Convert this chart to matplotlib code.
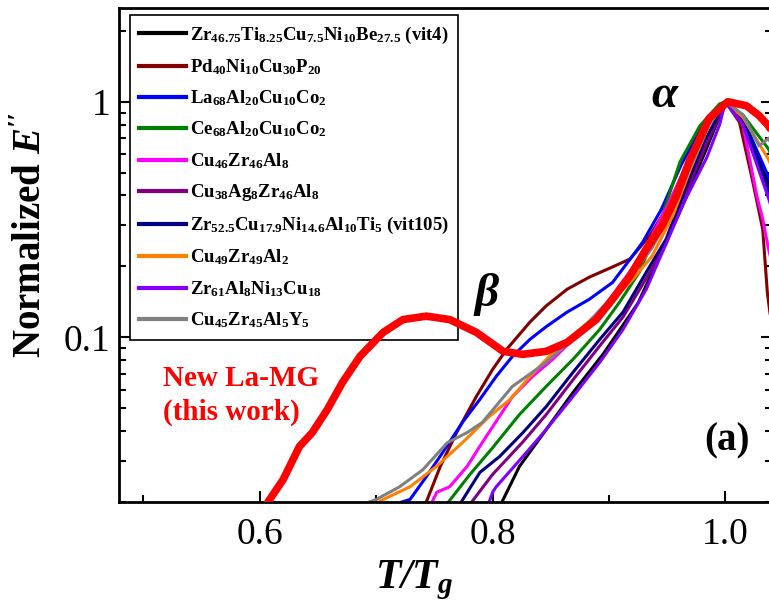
import numpy as np
import matplotlib
matplotlib.use("Agg")
import matplotlib.pyplot as plt
from matplotlib.ticker import LogLocator, NullFormatter, FixedLocator

plt.rcParams['font.family'] = ['Liberation Serif', 'DejaVu Serif']
plt.rcParams['mathtext.fontset'] = 'custom'
plt.rcParams['mathtext.rm'] = 'Liberation Serif'
plt.rcParams['mathtext.it'] = 'Liberation Serif:italic'
plt.rcParams['mathtext.bf'] = 'Liberation Serif:bold'
plt.rcParams['mathtext.bfit'] = 'Liberation Serif:bold:italic'

x_vit4 = [0.808, 0.823, 0.846, 0.869, 0.895, 0.925, 0.945, 0.965, 0.983, 1.0, 1.015, 1.037, 1.06]
y_vit4 = [0.020, 0.0283, 0.0406, 0.0583, 0.085, 0.14, 0.23, 0.38, 0.62, 1.0, 0.85, 0.45, 0.2]

x_pd = [0.743, 0.755, 0.769, 0.786, 0.800, 0.812, 0.832, 0.846, 0.864, 0.883, 0.903, 0.918,
        0.935, 0.952, 0.968, 0.985, 1.0, 1.012, 1.023, 1.032, 1.036, 1.045]
y_pd = [0.020, 0.0283, 0.0394, 0.0561, 0.0731, 0.0889, 0.116, 0.136, 0.160, 0.180, 0.199, 0.215,
        0.27, 0.37, 0.55, 0.8, 1.0, 0.82, 0.47, 0.288, 0.155, 0.07]

x_la = [0.722, 0.729, 0.743, 0.757, 0.774, 0.789, 0.803, 0.817, 0.832, 0.846, 0.864, 0.883,
        0.903, 0.920, 0.929, 0.945, 0.962, 0.980, 1.0, 1.015, 1.037, 1.055]
y_la = [0.020, 0.0205, 0.0256, 0.0324, 0.0435, 0.0545, 0.0682, 0.083, 0.098, 0.111, 0.128, 0.145,
        0.171, 0.221, 0.254, 0.35, 0.54, 0.79, 1.0, 0.85, 0.48, 0.3]

x_ce = [0.762, 0.780, 0.800, 0.823, 0.846, 0.869, 0.892, 0.909, 0.926, 0.943, 0.950, 0.961,
        0.978, 0.995, 1.0, 1.015, 1.037, 1.055]
y_ce = [0.020, 0.026, 0.034, 0.047, 0.0619, 0.0806, 0.108, 0.141, 0.189, 0.30, 0.38, 0.556,
        0.79, 0.98, 1.0, 0.88, 0.63, 0.38]

x_cuzral8 = [0.748, 0.752, 0.763, 0.778, 0.791, 0.817, 0.834, 0.852, 0.875, 0.898, 0.918, 0.935,
             0.950, 0.965, 0.982, 1.0, 1.015, 1.027, 1.032, 1.037, 1.05]
y_cuzral8 = [0.020, 0.022, 0.0232, 0.0283, 0.0357, 0.056, 0.068, 0.081, 0.105, 0.14, 0.19, 0.26,
             0.36, 0.52, 0.76, 1.0, 0.8, 0.398, 0.318, 0.237, 0.13]

x_cuag = [0.782, 0.800, 0.826, 0.846, 0.869, 0.892, 0.912, 0.932, 0.949, 0.965, 0.983, 1.0,
          1.015, 1.037, 1.055]
y_cuag = [0.020, 0.0262, 0.036, 0.047, 0.066, 0.092, 0.122, 0.178, 0.25, 0.40, 0.65, 1.0,
          0.83, 0.41, 0.22]

x_vit105 = [0.773, 0.789, 0.806, 0.826, 0.846, 0.869, 0.892, 0.912, 0.932, 0.949, 0.965, 0.982,
            1.0, 1.015, 1.037, 1.055]
y_vit105 = [0.020, 0.0267, 0.0312, 0.0394, 0.0508, 0.0710, 0.098, 0.128, 0.189, 0.261, 0.42, 0.68,
            1.0, 0.85, 0.43, 0.25]

x_cuzral2 = [0.702, 0.706, 0.729, 0.752, 0.774, 0.797, 0.815, 0.832, 0.852, 0.875, 0.898, 0.918,
             0.937, 0.955, 0.970, 0.986, 1.0, 1.015, 1.037, 1.055]
y_cuzral2 = [0.020, 0.0205, 0.0232, 0.0284, 0.0357, 0.0461, 0.0545, 0.0682, 0.0863, 0.108, 0.136, 0.171,
             0.221, 0.33, 0.52, 0.8, 1.0, 0.86, 0.57, 0.35]

x_zral = [0.797, 0.800, 0.803, 0.826, 0.846, 0.869, 0.892, 0.912, 0.932, 0.952, 0.965, 0.984,
          0.995, 1.0, 1.015, 1.037, 1.055]
y_zral = [0.020, 0.022, 0.0232, 0.0312, 0.0406, 0.0561, 0.0783, 0.108, 0.160, 0.27, 0.38, 0.58,
          0.80, 1.0, 0.8, 0.39, 0.2]

x_cuzraly = [0.694, 0.700, 0.720, 0.740, 0.761, 0.778, 0.791, 0.817, 0.846, 0.870, 0.895, 0.918,
             0.937, 0.955, 0.970, 0.986, 1.0, 1.015, 1.029, 1.037, 1.055]
y_cuzraly = [0.020, 0.0205, 0.0232, 0.0274, 0.0357, 0.0394, 0.0435, 0.0619, 0.0783, 0.10, 0.135, 0.18,
             0.24, 0.35, 0.53, 0.8, 1.0, 0.88, 0.65, 0.70, 0.45]

x_new = [0.607, 0.620, 0.634, 0.645, 0.658, 0.671, 0.686, 0.706, 0.723, 0.743, 0.763, 0.786,
         0.809, 0.826, 0.846, 0.864, 0.875, 0.889, 0.903, 0.918, 0.932, 0.946, 0.958, 0.969,
         0.986, 1.002, 1.018, 1.029, 1.037, 1.05, 1.08]
y_new = [0.020, 0.0249, 0.0344, 0.0394, 0.0494, 0.0644, 0.0830, 0.105, 0.119, 0.123, 0.119, 0.105,
         0.0872, 0.0847, 0.0872, 0.0952, 0.105, 0.119, 0.145, 0.182, 0.237, 0.30, 0.40, 0.56,
         0.85, 1.0, 0.962, 0.872, 0.79, 0.62, 0.35]

labels = [
    r"$\mathbf{Zr_{46.75}Ti_{8.25}Cu_{7.5}Ni_{10}Be_{27.5}}$ (vit4)",
    r"$\mathbf{Pd_{40}Ni_{10}Cu_{30}P_{20}}$",
    r"$\mathbf{La_{68}Al_{20}Cu_{10}Co_{2}}$",
    r"$\mathbf{Ce_{68}Al_{20}Cu_{10}Co_{2}}$",
    r"$\mathbf{Cu_{46}Zr_{46}Al_{8}}$",
    r"$\mathbf{Cu_{38}Ag_{8}Zr_{46}Al_{8}}$",
    r"$\mathbf{Zr_{52.5}Cu_{17.9}Ni_{14.6}Al_{10}Ti_{5}}$ (vit105)",
    r"$\mathbf{Cu_{49}Zr_{49}Al_{2}}$",
    r"$\mathbf{Zr_{61}Al_{8}Ni_{13}Cu_{18}}$",
    r"$\mathbf{Cu_{45}Zr_{45}Al_{5}Y_{5}}$",
]
colors = ['black', '#800000', '#0000ff', '#008000', '#ff00ff',
          '#800080', '#000080', '#ff8000', '#8000ff', '#808080']
xs = [x_vit4, x_pd, x_la, x_ce, x_cuzral8, x_cuag, x_vit105, x_cuzral2, x_zral, x_cuzraly]
ys = [y_vit4, y_pd, y_la, y_ce, y_cuzral8, y_cuag, y_vit105, y_cuzral2, y_zral, y_cuzraly]

fig = plt.figure(figsize=(7.69, 6.06), dpi=100)
ax = fig.add_axes([119 / 769, 1 - 502 / 606, 653 / 769, 494 / 606])

for x, y, c, lab in zip(xs, ys, colors, labels):
    ax.plot(x, y, color=c, lw=2.2, label=lab, solid_joinstyle='round')
# rote Kurve liegt ueber der Legende
ax.plot(x_new, y_new, color='#ff0000', lw=5.5, solid_capstyle='round',
        solid_joinstyle='round', zorder=6)

ax.set_yscale('log')
ax.set_xlim(0.479, 1.04)
ax.set_ylim(0.02, 2.5)

ax.xaxis.set_major_locator(FixedLocator([0.6, 0.8, 1.0]))
ax.xaxis.set_minor_locator(FixedLocator([0.5, 0.7, 0.9]))
ax.set_xticklabels(['0.6', '0.8', '1.0'])
ax.yaxis.set_major_locator(FixedLocator([0.1, 1]))
ax.set_yticklabels(['0.1', '1'])
ax.yaxis.set_minor_locator(LogLocator(base=10, subs=np.arange(2, 10)))
ax.yaxis.set_minor_formatter(NullFormatter())

ax.tick_params(which='both', direction='in', top=False, right=True, width=1.5, labelsize=27)
ax.tick_params(which='major', length=8)
ax.tick_params(which='minor', length=5)
ax.tick_params(axis='x', pad=11)
ax.tick_params(axis='y', pad=6)
for s in ax.spines.values():
    s.set_linewidth(2)

leg = ax.legend(loc='upper left', bbox_to_anchor=(11 / 653, 487 / 494), borderaxespad=0,
                prop={'family': 'Liberation Serif', 'weight': 'bold', 'size': 13.5},
                handlelength=2.5, handletextpad=0.2, labelspacing=0.62, borderpad=0.5,
                fancybox=False, framealpha=1, edgecolor='black')
leg.get_frame().set_linewidth(1.2)
leg.set_zorder(5)
for h in leg.get_lines():
    h.set_linewidth(3)

ax.text(0.948, 1.06, 'α', fontsize=34, fontweight='bold', fontstyle='italic', ha='center', va='center')
ax.text(0.795, 0.152, 'β', fontsize=34, fontweight='bold', fontstyle='italic', ha='center', va='center')
ax.text(0.517, 0.0566, 'New La-MG\n(this work)', color='#ff0000', fontsize=21, fontweight='bold',
        ha='left', va='center', linespacing=1.3)
ax.text(1.001, 0.0364, '(a)', fontsize=28, fontweight='bold', ha='center', va='center')

fig.text(414 / 769, 1 - 588 / 606, r'$\mathbfit{T/T}_{\mathbfit{g}}$', fontsize=30, ha='center', va='baseline')
fig.text(32 / 769, 1 - 235 / 606, r"Normalized $\mathbfit{E''}$", fontsize=28, fontweight='bold',
         rotation=90, ha='center', va='center')

fig.savefig('out.png', dpi=100)
